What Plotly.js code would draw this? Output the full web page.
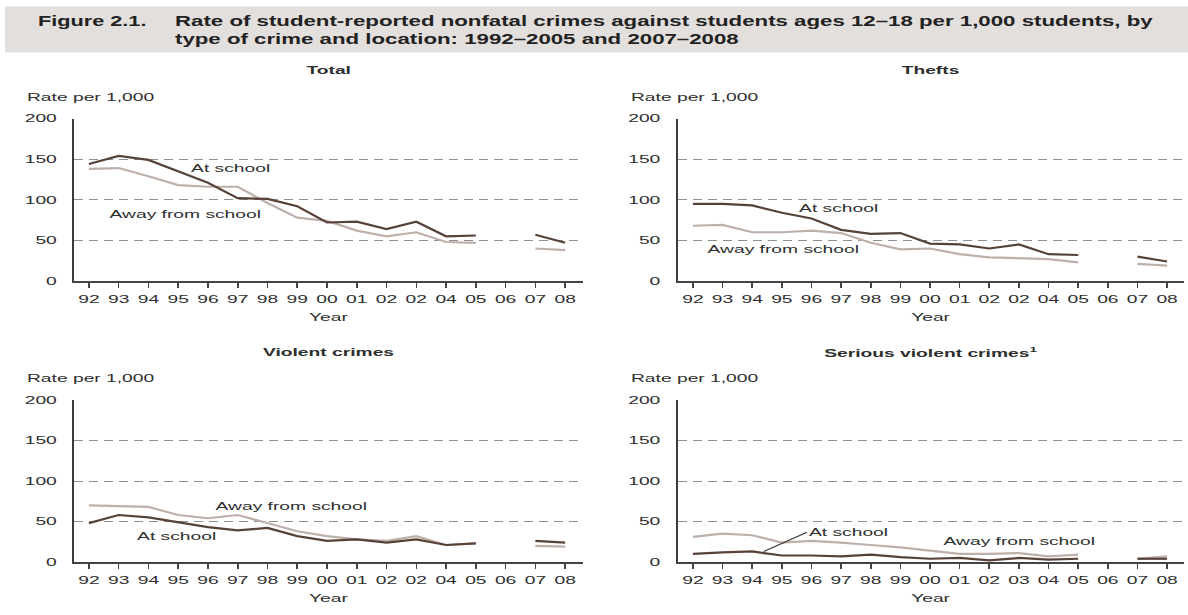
<!DOCTYPE html>
<html>
<head>
<meta charset="utf-8">
<script src="https://cdn.plot.ly/plotly-3.0.1.min.js"></script>
<style>
html,body{margin:0;padding:0;background:#fff;}
#chart{width:1188px;height:615px;}
</style>
</head>
<body>
<div id="chart"></div>
<script>
// ---- data ----
const years = [1992,1993,1994,1995,1996,1997,1998,1999,2000,2001,2002,2003,2004,2005,2006,2007,2008];
const tickLabelsA = ["92","93","94","95","96","97","98","99","00","01","02","02","04","05","06","07","08"];
const tickLabelsB = ["92","93","94","95","96","97","98","99","00","01","02","03","04","05","06","07","08"];
const yTicks = [0,50,100,150,200];

// null = no data (2006)
const totalAtSchool   = [144,154,149,135,121,102,101,92,72,73,64,73,55,56,null,57,47];
const totalAway       = [138,139,129,118,116,116,96,78,74,62,55,60,48,47,null,40,38];
const theftsAtSchool  = [95,95,93,84,77,63,58,59,46,45,40,45,33,32,null,30,24];
const theftsAway      = [68,69,60,60,62,59,47,39,40,33,29,28,27,23,null,21,19];
const violentAtSchool = [48,58,55,49,43,39,42,32,26,28,24,28,21,23,null,26,24];
const violentAway     = [70,69,68,58,54,58,48,38,32,28,26,32,21,23,null,20,19];
const seriousAtSchool = [10,12,13,8,8,7,9,6,4,5,2,5,3,4,null,4,4];
const seriousAway     = [31,35,33,24,26,24,21,18,14,10,10,11,7,9,null,4,7];

const panelTitles = ["Total","Thefts","Violent crimes","Serious violent crimes<sup>1</sup>"];
const seriesNames = ["At school","Away from school"];
const figureLabel = "Figure 2.1.";
const figureTitle = "Rate of student-reported nonfatal crimes against students ages 12–18 per 1,000 students, by<br>type of crime and location: 1992–2005 and 2007–2008";
const yTitle = "Rate per 1,000";
const xTitle = "Year";

const darkCol = "#574238";
const lightCol = "#bdb0aa";
const textCol = "#2e2e2e";
const font = "Arial, 'Liberation Sans', sans-serif";
const FS = 11;

function tr(x, y, name, col, xa, ya){
  return {x:x, y:y, name:name, type:"scatter", mode:"lines", connectgaps:false,
    line:{color:col, width:2.2}, xaxis:xa, yaxis:ya, hoverinfo:"x+y+name"};
}

const traces = [
  tr(years, totalAway, seriesNames[1], lightCol, "x", "y"),
  tr(years, totalAtSchool, seriesNames[0], darkCol, "x", "y"),
  tr(years, theftsAway, seriesNames[1], lightCol, "x2", "y2"),
  tr(years, theftsAtSchool, seriesNames[0], darkCol, "x2", "y2"),
  tr(years, violentAway, seriesNames[1], lightCol, "x3", "y3"),
  tr(years, violentAtSchool, seriesNames[0], darkCol, "x3", "y3"),
  tr(years, seriousAway, seriesNames[1], lightCol, "x4", "y4"),
  tr(years, seriousAtSchool, seriesNames[0], darkCol, "x4", "y4")
];

const W = 1188, H = 615;
function px(v){ return v / W; }
function py(v){ return 1 - v / H; }

function xaxis(domL, domR, range, labels, anchor){
  return {
    domain:[px(domL), px(domR)], range:range, anchor:anchor,
    tickmode:"array", tickvals:years, ticktext:labels,
    showline:true, linecolor:"#444", linewidth:1.6,
    ticks:"outside", ticklen:5, tickwidth:1.6, tickcolor:"#444",
    showgrid:false, zeroline:false,
    tickfont:{family:font, size:FS, color:textCol},
    ticklabelstandoff:2,
    title:{text:xTitle, font:{family:font, size:FS, color:textCol}, standoff:9},
    fixedrange:true
  };
}
function yaxis(domB, domT, anchor){
  return {
    domain:[py(domB), py(domT)], range:[0,200], anchor:anchor,
    tickmode:"array", tickvals:yTicks,
    showline:true, linecolor:"#3a3a3a", linewidth:2,
    ticks:"", showgrid:true, gridcolor:"#8f8f8f", gridwidth:1, griddash:"9px,6px",
    zeroline:false,
    tickfont:{family:font, size:FS, color:textCol},
    ticklabelstandoff:13,
    fixedrange:true
  };
}

const TL = [74, 583], TR = [677.5, 1184];
const rangeL = [1991.5, 2008.6], rangeR = [1991.48, 2008.57];

function ann(xref, yref, x, y, text, extra){
  return Object.assign({xref:xref, yref:yref, x:x, y:y, text:text, showarrow:false,
    xanchor:"center", yanchor:"middle",
    font:{family:font, size:FS, color:textCol}}, extra || {});
}

const annotations = [
  ann("paper","paper", px(36), py(21), "<b>"+figureLabel+"</b>", {xanchor:"left", align:"left", font:{family:font, size:14, color:"#222"}}),
  ann("paper","paper", px(172.5), py(30), "<b>"+figureTitle+"</b>", {xanchor:"left", align:"left", font:{family:font, size:14, color:"#222"}}),
  ann("paper","paper", px((TL[0]+TL[1])/2), py(70), "<b>"+panelTitles[0]+"</b>"),
  ann("paper","paper", px((TR[0]+TR[1])/2), py(70), "<b>"+panelTitles[1]+"</b>"),
  ann("paper","paper", px((TL[0]+TL[1])/2), py(352), "<b>"+panelTitles[2]+"</b>"),
  ann("paper","paper", px((TR[0]+TR[1])/2), py(352), "<b>"+panelTitles[3]+"</b>"),
  ann("paper","paper", px(25), py(96.5), yTitle, {xanchor:"left", align:"left"}),
  ann("paper","paper", px(629), py(96.5), yTitle, {xanchor:"left", align:"left"}),
  ann("paper","paper", px(25), py(378), yTitle, {xanchor:"left", align:"left"}),
  ann("paper","paper", px(629), py(378), yTitle, {xanchor:"left", align:"left"}),
  ann("x","y", 1996.76, 139, seriesNames[0]),
  ann("x","y", 1995.26, 82, seriesNames[1]),
  ann("x2","y2", 1996.9, 90, seriesNames[0]),
  ann("x2","y2", 1995.07, 39, seriesNames[1]),
  ann("x3","y3", 1998.8, 69, seriesNames[1]),
  ann("x3","y3", 1994.94, 32.5, seriesNames[0]),
  ann("x4","y4", 1994.39, 13, seriesNames[0], {showarrow:true, ax:1995.85, ay:36.7, axref:"x4", ayref:"y4",
     xanchor:"left", align:"left", arrowhead:0, arrowwidth:1.3, arrowcolor:"#333"}),
  ann("x4","y4", 2003.02, 25.7, seriesNames[1])
];
// horizontal stretch factors for text (the reference text is drawn wide)
const labelStretch = 1.55, titleStretch = 1.59, textStretch = 1.75;

const layout = {
  width:W, height:H,
  margin:{l:0,r:0,t:0,b:0},
  paper_bgcolor:"#ffffff", plot_bgcolor:"rgba(0,0,0,0)",
  showlegend:false,
  font:{family:font, color:textCol},
  xaxis: xaxis(TL[0], TL[1], rangeL, tickLabelsA, "y"),
  yaxis: yaxis(281, 118.5, "x"),
  xaxis2: xaxis(TR[0], TR[1], rangeR, tickLabelsA, "y2"),
  yaxis2: yaxis(281, 118.5, "x2"),
  xaxis3: xaxis(TL[0], TL[1], rangeL, tickLabelsA, "y3"),
  yaxis3: yaxis(562, 400, "x3"),
  xaxis4: xaxis(TR[0], TR[1], rangeR, tickLabelsB, "y4"),
  yaxis4: yaxis(562, 400, "x4"),
  shapes:[
    {type:"rect", xref:"paper", yref:"paper", x0:px(5), x1:1, y0:py(52.5), y1:py(6.5),
     fillcolor:"#e3dfdc", line:{width:0}, layer:"below"}
  ],
  annotations: annotations
};

function stretch(el, s){
  const bb = el.getBBox();
  if (!bb || !bb.width) return;
  const anchor = el.getAttribute("text-anchor") || "start";
  const ax = anchor === "middle" ? bb.x + bb.width/2 : (anchor === "end" ? bb.x + bb.width : bb.x);
  const prev = el.getAttribute("transform") || "";
  el.setAttribute("transform", prev + " translate(" + ax + ",0) scale(" + s + ",1) translate(" + (-ax) + ",0)");
}

Plotly.newPlot("chart", traces, layout, {displayModeBar:false, staticPlot:true}).then(function(gd){
  const sel = [];
  ["x","x2","x3","x4","y","y2","y3","y4"].forEach(function(a){
    sel.push("g." + a + "tick text");
    sel.push("text." + a + "title");
  });
  gd.querySelectorAll(sel.join(", ")).forEach(function(t){ stretch(t, textStretch); });
  gd.querySelectorAll("g.annotation").forEach(function(g){
    const i = +g.getAttribute("data-index");
    const t = g.querySelector("text");
    if (t) stretch(t, i === 0 ? labelStretch : (i === 1 ? titleStretch : textStretch));
  });
});
</script>
</body>
</html>
